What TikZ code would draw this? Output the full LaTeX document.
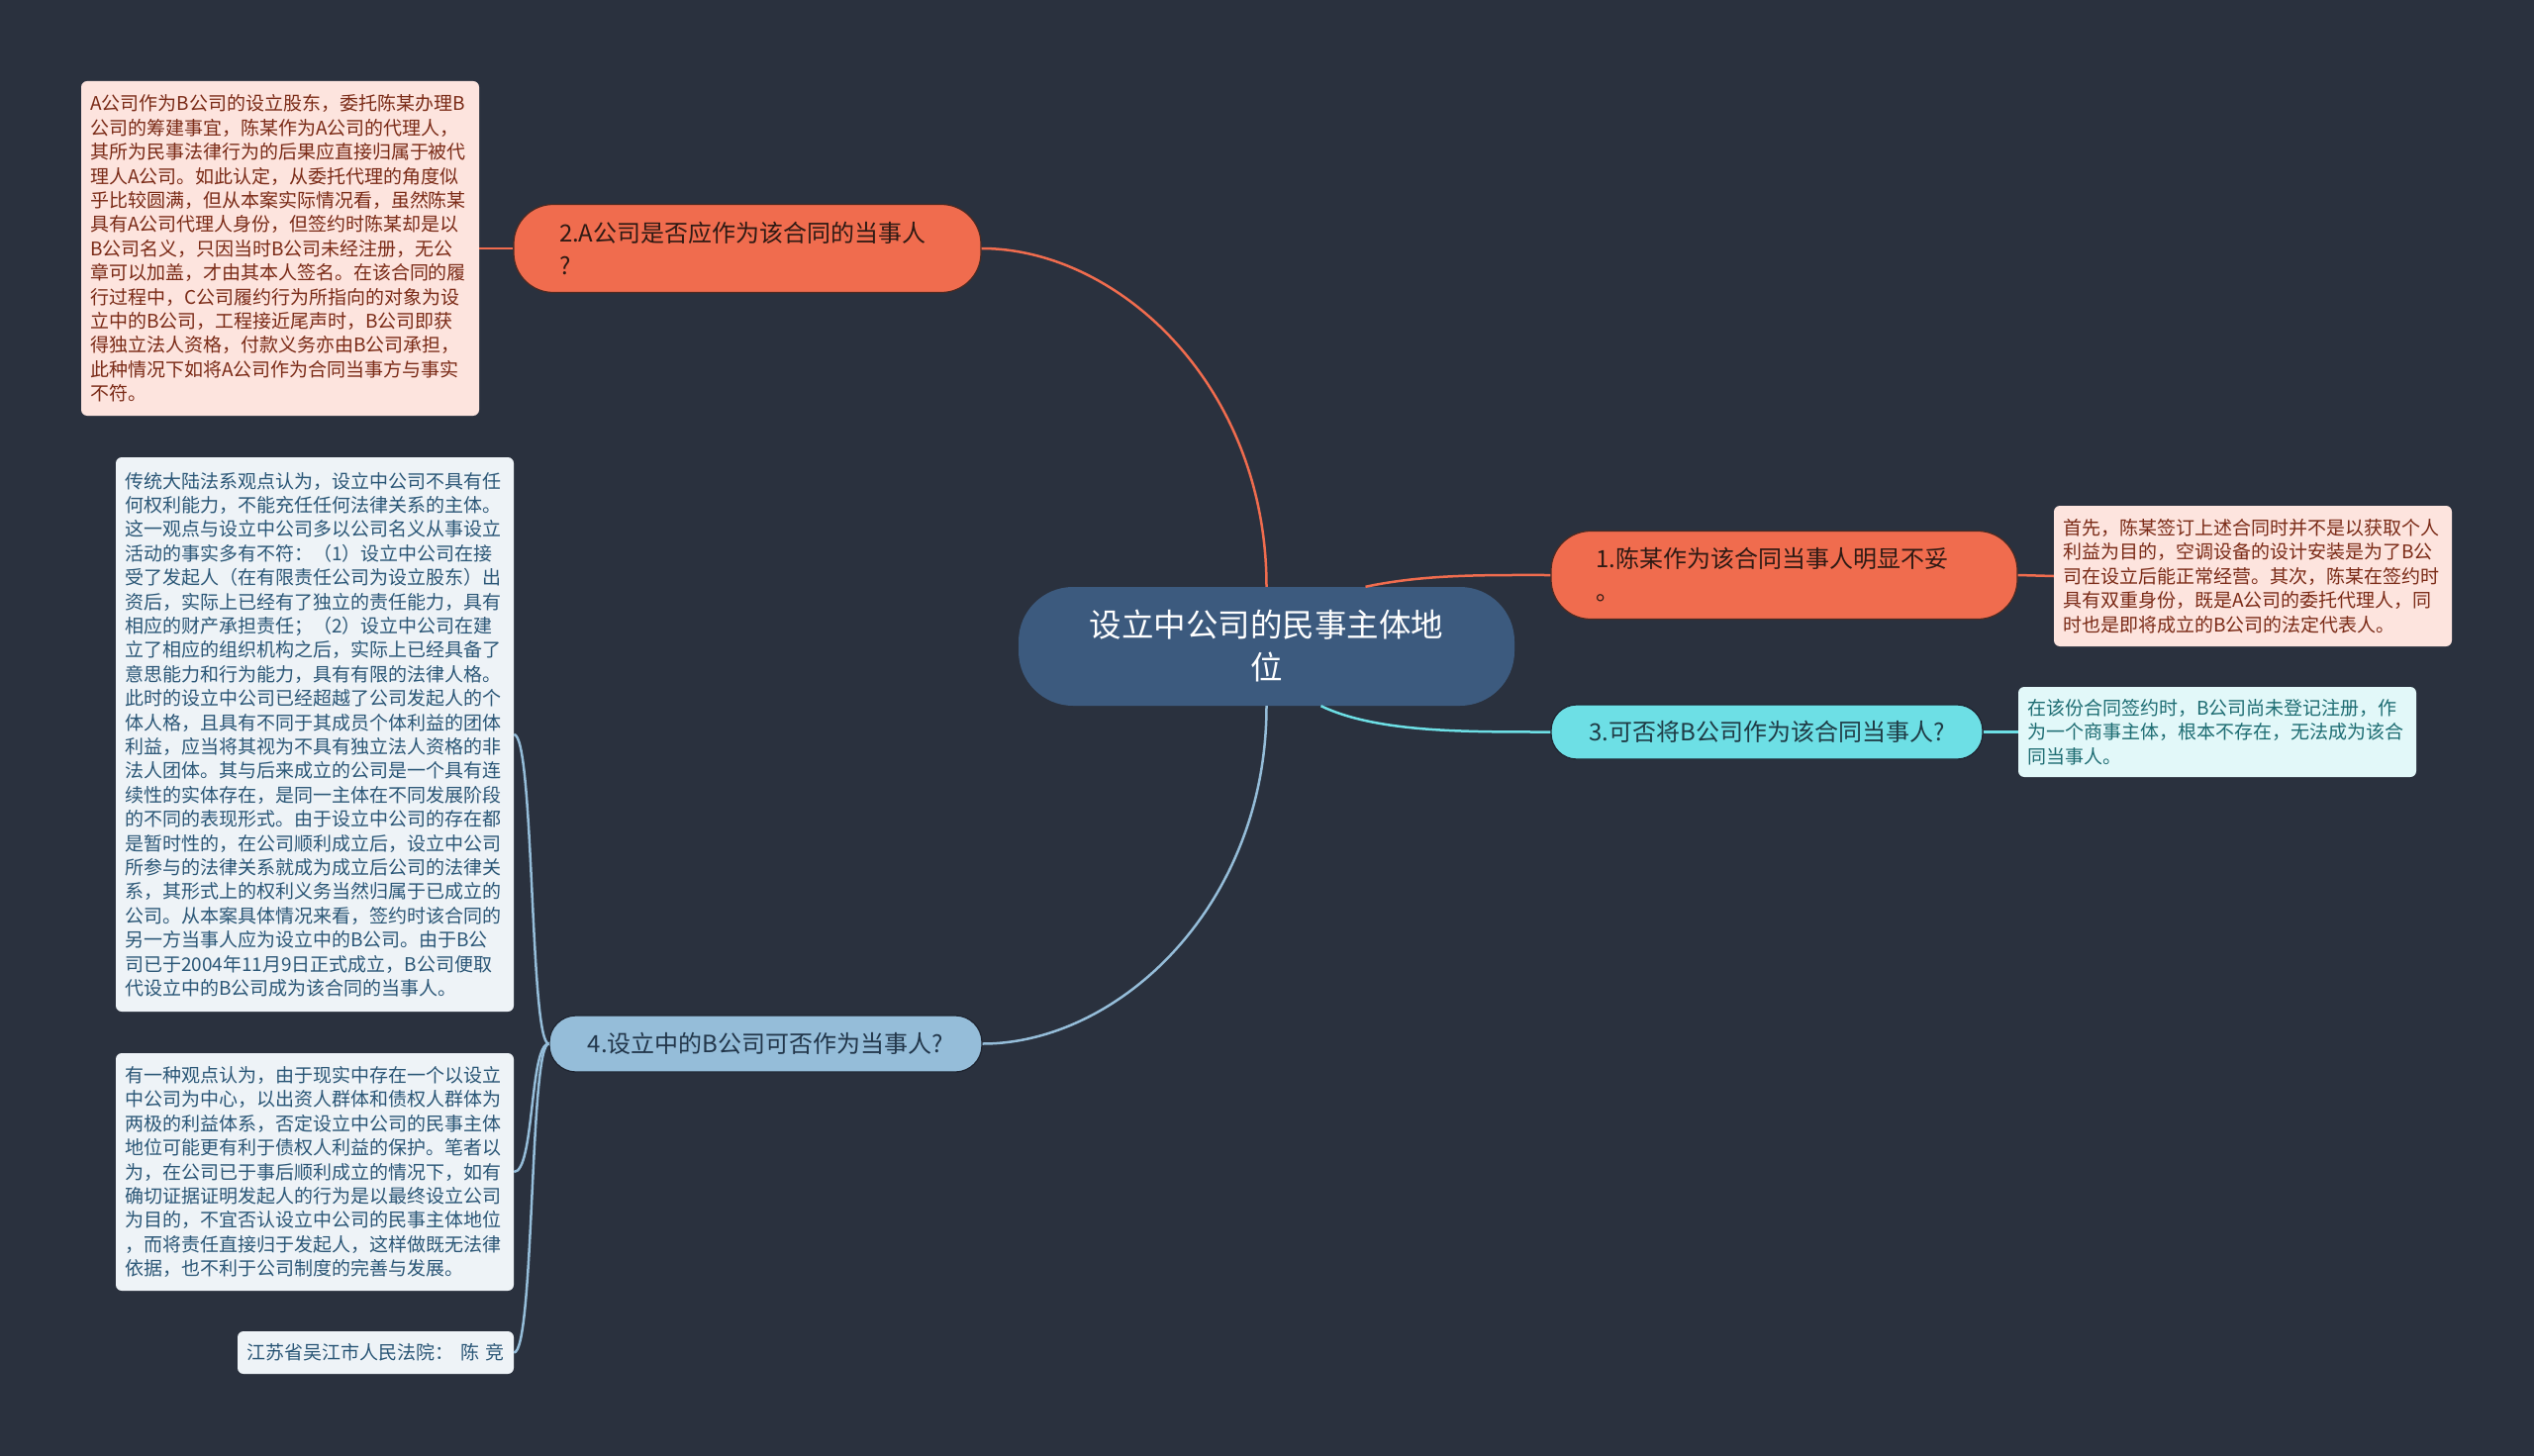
\documentclass[tikz,border=0pt]{standalone}
\usepackage{fontspec}
\setmainfont{Noto Sans CJK SC}
\definecolor{bg}{HTML}{2A313E}
\definecolor{rootc}{HTML}{3C5A7E}
\definecolor{orng}{HTML}{F06C4E}
\definecolor{orngline}{HTML}{4D2A22}
\definecolor{orngtext}{HTML}{2E1A14}
\definecolor{pinkbg}{HTML}{FDE4DE}
\definecolor{pinktext}{HTML}{7A2A16}
\definecolor{cyanc}{HTML}{6DDFE5}
\definecolor{cyantext}{HTML}{1F3B45}
\definecolor{cyanbg}{HTML}{E2F8F9}
\definecolor{cyandtext}{HTML}{1D6C72}
\definecolor{bluec}{HTML}{95BDD9}
\definecolor{bluetext}{HTML}{22364A}
\definecolor{bluebg}{HTML}{EEF3F7}
\definecolor{bluedtext}{HTML}{2A5676}
\definecolor{darkedge}{HTML}{1E2430}
\tikzset{
  rootnode/.style={fill=rootc, text=white, rounded corners=55pt, minimum width=501pt,
    minimum height=120pt, font=\fontsize{32.5}{43}\selectfont, align=center, inner sep=0pt},
  otopic/.style={fill=orng, draw=orngline, line width=1.2pt, text=orngtext, rounded corners=40pt,
    font=\fontsize{24}{33}\selectfont, text width=380pt, align=left, inner sep=0pt,
    minimum height=89pt},
  ctopic/.style={fill=cyanc, draw=darkedge, line width=1.2pt, text=cyantext, rounded corners=26pt,
    font=\fontsize{24}{30}\selectfont, align=center, inner sep=0pt},
  btopic/.style={fill=bluec, draw=darkedge, line width=1.2pt, text=bluetext, rounded corners=27pt,
    font=\fontsize{24}{30}\selectfont, align=center, inner sep=0pt},
  detail/.style={rounded corners=6pt, font=\fontsize{19}{24.4}\selectfont, text width=384pt,
    align=left, inner xsep=9pt, inner ysep=0pt, anchor=center, minimum width=402pt},
  pdetail/.style={detail, fill=pinkbg, text=pinktext},
  cdetail/.style={detail, fill=cyanbg, text=cyandtext},
  bdetail/.style={detail, fill=bluebg, text=bluedtext},
  ol/.style={draw=orng, line width=2.5pt},
  cl/.style={draw=cyanc, line width=2.5pt},
  bl/.style={draw=bluec, line width=2.5pt},
}
\begin{document}
\begin{tikzpicture}[x=1pt,y=-1pt]
\fill[bg] (0,0) rectangle (2560,1471);
\useasboundingbox (0,0) rectangle (2560,1471);

% root
\node[rootnode] (root) at (1279.5,653) {设立中公司的民事主体地\\位};

% branch 1
\node[otopic, minimum width=471pt] (n1) at (1802.5,581) {1.陈某作为该合同当事人明显不妥\\。};
\node[pdetail, minimum height=142pt] (d1) at (2276,582) {首先，陈某签订上述合同时并不是以获取个人\\利益为目的，空调设备的设计安装是为了B公\\司在设立后能正常经营。其次，陈某在签约时\\具有双重身份，既是A公司的委托代理人，同\\时也是即将成立的B公司的法定代表人。};

% branch 2
\node[otopic, minimum width=472pt] (n2) at (755,251) {2.A公司是否应作为该合同的当事人\\?};
\node[pdetail, minimum height=338pt] (d2) at (283,251) {A公司作为B公司的设立股东，委托陈某办理B\\公司的筹建事宜，陈某作为A公司的代理人，\\其所为民事法律行为的后果应直接归属于被代\\理人A公司。如此认定，从委托代理的角度似\\乎比较圆满，但从本案实际情况看，虽然陈某\\具有A公司代理人身份，但签约时陈某却是以\\B公司名义，只因当时B公司未经注册，无公\\章可以加盖，才由其本人签名。在该合同的履\\行过程中，C公司履约行为所指向的对象为设\\立中的B公司，工程接近尾声时，B公司即获\\得独立法人资格，付款义务亦由B公司承担，\\此种情况下如将A公司作为合同当事方与事实\\不符。};

% branch 3
\node[ctopic, minimum width=436pt, minimum height=55pt] (n3) at (1785,739.5) {3.可否将B公司作为该合同当事人?};
\node[cdetail, minimum height=91pt] (d3) at (2240,739.5) {在该份合同签约时，B公司尚未登记注册，作\\为一个商事主体，根本不存在，无法成为该合\\同当事人。};

% branch 4
\node[btopic, minimum width=437pt, minimum height=57pt] (n4) at (773.5,1054.5) {4.设立中的B公司可否作为当事人?};
\node[bdetail, minimum height=560pt] (d4a) at (318,742) {传统大陆法系观点认为，设立中公司不具有任\\何权利能力，不能充任任何法律关系的主体。\\这一观点与设立中公司多以公司名义从事设立\\活动的事实多有不符：（1）设立中公司在接\\受了发起人（在有限责任公司为设立股东）出\\资后，实际上已经有了独立的责任能力，具有\\相应的财产承担责任；（2）设立中公司在建\\立了相应的组织机构之后，实际上已经具备了\\意思能力和行为能力，具有有限的法律人格。\\此时的设立中公司已经超越了公司发起人的个\\体人格，且具有不同于其成员个体利益的团体\\利益，应当将其视为不具有独立法人资格的非\\法人团体。其与后来成立的公司是一个具有连\\续性的实体存在，是同一主体在不同发展阶段\\的不同的表现形式。由于设立中公司的存在都\\是暂时性的，在公司顺利成立后，设立中公司\\所参与的法律关系就成为成立后公司的法律关\\系，其形式上的权利义务当然归属于已成立的\\公司。从本案具体情况来看，签约时该合同的\\另一方当事人应为设立中的B公司。由于B公\\司已于2004年11月9日正式成立，B公司便取\\代设立中的B公司成为该合同的当事人。};
\node[bdetail, minimum height=240pt] (d4b) at (318,1184) {有一种观点认为，由于现实中存在一个以设立\\中公司为中心，以出资人群体和债权人群体为\\两极的利益体系，否定设立中公司的民事主体\\地位可能更有利于债权人利益的保护。笔者以\\为，在公司已于事后顺利成立的情况下，如有\\确切证据证明发起人的行为是以最终设立公司\\为目的，不宜否认设立中公司的民事主体地位\\，而将责任直接归于发起人，这样做既无法律\\依据，也不利于公司制度的完善与发展。};
\node[rounded corners=6pt, fill=bluebg, text=bluedtext, font=\fontsize{19}{24.4}\selectfont,
  minimum width=279pt, minimum height=43pt, inner sep=0pt] (d4c) at (379.5,1366.5)
  {江苏省吴江市人民法院：\hspace{0.35em}陈\hspace{0.3em}竞};

% connectors
\draw[ol] (root.north) .. controls (1279.5,390) and (1130,251) .. (n2.east);
\draw[ol] ([xshift=100pt]root.north) .. controls (1440,580) and (1500,581) .. (n1.west);
\draw[cl] ([xshift=55pt]root.south) .. controls (1390,740) and (1480,739.5) .. (n3.west);
\draw[bl] (root.south) .. controls (1279.5,915) and (1130,1054.5) .. (n4.east);
\draw[ol] (n1.east) -- (d1.west);
\draw[ol] (n2.west) -- (d2.east);
\draw[cl] (n3.east) -- (d3.west);
\draw[bl] (n4.west) .. controls (535,1054.5) and (540,742) .. (d4a.east);
\draw[bl] (n4.west) .. controls (535,1054.5) and (540,1184) .. (d4b.east);
\draw[bl] (n4.west) .. controls (535,1054.5) and (540,1366.5) .. (d4c.east);
\end{tikzpicture}
\end{document}
